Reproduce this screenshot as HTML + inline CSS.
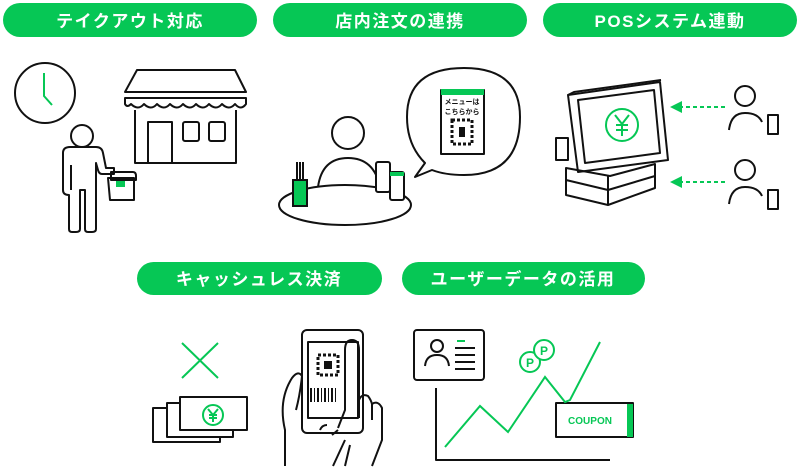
<!DOCTYPE html>
<html><head><meta charset="utf-8"><style>
html,body{margin:0;padding:0;background:#fff;width:800px;height:467px;overflow:hidden}
svg{display:block}
.t{font-family:"Liberation Sans","Noto Sans CJK JP",sans-serif;font-weight:bold;fill:#fff;font-size:17px;letter-spacing:1.5px}
</style></head><body>
<svg width="800" height="467" viewBox="0 0 800 467" xmlns="http://www.w3.org/2000/svg">
<g fill="#06c755">
<rect x="3" y="3" width="254" height="34" rx="17"/>
<rect x="273" y="3" width="254" height="34" rx="17"/>
<rect x="543" y="3" width="254" height="34" rx="17"/>
<rect x="137" y="262" width="245" height="33" rx="16.5"/>
<rect x="402" y="262" width="243" height="33" rx="16.5"/>
</g>
<text class="t" x="130" y="27" text-anchor="middle">テイクアウト対応</text>
<text class="t" x="400" y="27" text-anchor="middle">店内注文の連携</text>
<text class="t" x="670" y="27" text-anchor="middle">POSシステム連動</text>
<text class="t" x="259" y="285" text-anchor="middle">キャッシュレス決済</text>
<text class="t" x="523" y="285" text-anchor="middle">ユーザーデータの活用</text>

<g fill="none" stroke="#111" stroke-width="2" stroke-linejoin="round">
<!-- clock -->
<circle cx="45" cy="93" r="30"/>
<!-- store -->
<path d="M137 70 H235 L246 92 H125 Z"/>
<path d="M125 98 H246 V104 Q241 111 235 104 Q229 111 222 104 Q216 111 209 104 Q203 111 196 104 Q190 111 183 104 Q177 111 170 104 Q164 111 157 104 Q151 111 144 104 Q138 111 131 104 Q127 108 125 104 Z"/>
<path d="M135 110 V163 H236 V110"/>
<rect x="148" y="122" width="24" height="41"/>
<rect x="183" y="122" width="16" height="19" rx="2"/>
<rect x="209" y="122" width="16" height="19" rx="2"/>
<!-- person -->
<circle cx="82" cy="136" r="11"/>
<path d="M70 147 H96 Q102 147 103 153 L106 168 H114 V174 H102 Q99 174 98 170 L96 163 V229 Q96 232 92 232 H88 Q85 232 85 229 V190 H80 V229 Q80 232 76 232 H72 Q69 232 69 229 V195 Q63 195 63 190 V153 Q63 147 70 147 Z"/>
<path d="M71 165 V190"/>
<path d="M108 178 H134 V200 H110 Z"/>
<path d="M111 172 H133 Q136 172 136 176 V180 H111 Z"/>
<!-- restaurant -->
<circle cx="348" cy="133" r="16"/>
<path d="M318 187 Q322 158 348 158 Q374 158 380 187"/>
<ellipse cx="345" cy="205" rx="66" ry="20" fill="#fff"/>
<path d="M297 180 V162 M300 180 V162 M303 180 V162"/>
<rect x="376" y="162" width="14" height="30" rx="2" fill="#fff"/>
<rect x="390" y="172" width="14" height="28" rx="2" fill="#fff"/>
<!-- bubble -->
<path d="M425 163 Q407 145 407 117 Q407 68 464 68 Q520 68 520 117 Q520 175 464 175 Q445 175 432 170 L415 177 Z" fill="#fff"/>
<rect x="441" y="90" width="43" height="64" fill="#fff"/>
<!-- POS -->
<path d="M568 95 L660 82 L668 160 L578 172 Z" fill="#fff"/>
<path d="M578 100 L654 90 L660 153 L585 163 Z"/>
<path d="M568 95 L574 92 L661 80"/>
<rect x="556" y="138" width="12" height="22" fill="#fff"/>
<path d="M566 168 L610 176 L655 164 L655 188 L608 205 L566 195 Z M566 180 L608 190 L655 176 M608 176 V205"/>
<circle cx="745" cy="96" r="10"/><path d="M729 130 Q731 113 745 113 Q758 113 762 122"/>
<rect x="768" y="115" width="10" height="19"/>
<circle cx="745" cy="170" r="10"/><path d="M729 204 Q731 187 745 187 Q758 187 762 196"/>
<rect x="768" y="190" width="10" height="19"/>
<!-- bills -->
<rect x="153" y="408" width="67" height="34" fill="#fff"/>
<rect x="167" y="403" width="66" height="34" fill="#fff"/>
<rect x="180" y="397" width="67" height="33" fill="#fff"/>
<!-- phone -->
<rect x="302" y="330" width="61" height="103" rx="5" fill="#fff"/>
<rect x="308" y="342" width="50" height="76"/>
<path d="M285 466 V430 Q278 400 292 378 Q298 370 302 376 Q300 395 296 410"/>
<path d="M320 430 Q322 425 327 425 M333 466 L345 440 M332 435 L338 430"/>
<path d="M345 350 Q345 340 352 340 Q359 340 359 350 V400 Q362 393 368 396 Q371 400 372 404 Q378 400 382 408 V440 L372 466 M345 350 V410 L338 428 M372 404 V420 M359 400 V418 M345 466 L350 445"/>
<!-- profile -->
<rect x="414" y="330" width="70" height="50" rx="3"/>
<circle cx="437" cy="346" r="6"/><path d="M425 366 Q426 355 437 355 Q448 355 449 366"/>
<path d="M455 348 H475 M455 355 H475 M455 362 H475 M455 369 H475"/>
<path d="M436 388 V460 H610"/>
<rect x="556" y="403" width="77" height="34" fill="#fff"/>
</g>
<!-- green elements -->
<g fill="none" stroke="#06c755" stroke-width="2">
<path d="M44 73 V96 L52 105"/>
<circle cx="622" cy="125" r="16"/>
<path d="M615 115 L622 124 L629 115 M622 124 V136 M616 125 H628 M616 130 H628"/>
<path d="M725 107 H680 M725 182 H680" stroke-dasharray="4 3"/>
<path d="M182 343 L218 378 M218 343 L182 378"/>
<circle cx="213" cy="415" r="10"/>
<path d="M208 409 L213 415 L218 409 M213 415 V422 M209 415 H217 M209 418 H217"/>
<path d="M445 447 L480 406 L508 432 L545 377 L565 402 L570 400 L600 342"/>
<circle cx="530" cy="362" r="10" fill="#fff"/>
<circle cx="544" cy="350" r="10" fill="#fff"/>
<path d="M457 341 H465"/>
</g>
<g fill="#06c755">
<path d="M670 107 L682 101 V113 Z M670 182 L682 176 V188 Z"/>
<rect x="116" y="181" width="9" height="6"/>
<rect x="293" y="180" width="14" height="26" stroke="#111" stroke-width="2"/>
<rect x="390" y="172" width="14" height="4"/>
<rect x="441" y="89" width="43" height="6"/>
<rect x="627" y="404" width="6" height="33"/>
</g>
<g font-family="Liberation Sans,Noto Sans CJK JP,sans-serif" font-weight="bold">
<text x="462" y="104" font-size="7" text-anchor="middle" fill="#111">メニューは</text>
<text x="462" y="114" font-size="7" text-anchor="middle" fill="#111">こちらから</text>
<text x="530" y="367" font-size="12" text-anchor="middle" fill="#06c755">P</text>
<text x="544" y="355" font-size="12" text-anchor="middle" fill="#06c755">P</text>
<text x="590" y="424" font-size="10" text-anchor="middle" fill="#06c755">COUPON</text>
</g>
<!-- QR codes -->
<g fill="#111">
<rect x="452" y="120" width="20" height="24" fill="none" stroke="#111" stroke-width="3" stroke-dasharray="3 2"/>
<rect x="459" y="127" width="6" height="10"/>
<rect x="318" y="355" width="20" height="20" fill="none" stroke="#111" stroke-width="3" stroke-dasharray="3 2"/>
<rect x="324" y="361" width="8" height="8"/>
<path d="M310 388 h2v14h-2z M314 388 h1v14h-1z M317 388 h2v14h-2z M321 388 h1v14h-1z M324 388 h2v14h-2z M328 388 h1v14h-1z M331 388 h2v14h-2z M335 388 h1v14h-1z"/>
</g>
</svg>
</body></html>
